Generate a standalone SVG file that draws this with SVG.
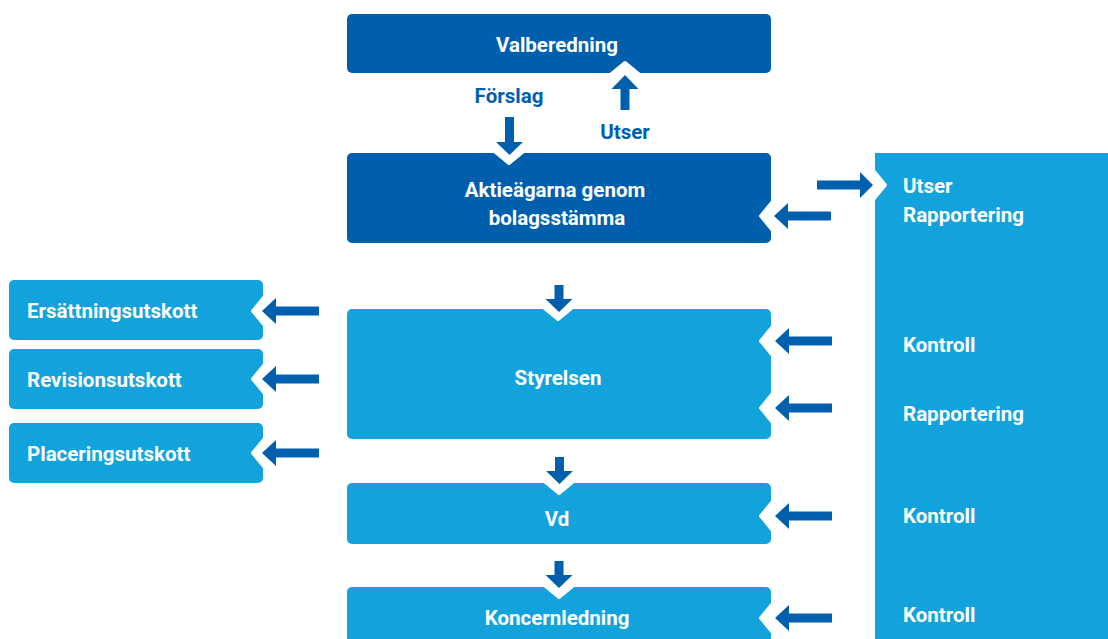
<svg xmlns="http://www.w3.org/2000/svg" xmlns:xlink="http://www.w3.org/1999/xlink" width="1108" height="639" viewBox="0 0 1108 639">
<style>
.dark{fill:#005fad}
.light{fill:#12a3dd}
.notch{fill:#fff;stroke:#fff;stroke-width:3;stroke-linejoin:round}
.arrow{fill:#0060ae}
text{font-family:Roboto,"Liberation Sans",sans-serif;font-weight:700;font-size:20.5px}
.w{fill:#fff}
.b{fill:#0060ae}
.c{text-anchor:middle}
</style>
<defs>
<path id="nU" d="M-14,1 L0,-10.5 L14,1 Z"/>
<path id="nD" d="M-14,-1 L0,10.5 L14,-1 Z"/>
<path id="nL" d="M1,-14 L-10.5,0 L1,14 Z"/>
<path id="nR" d="M-1,-14 L10.5,0 L-1,14 Z"/>
<path id="aL" d="M0,0 L14,-13 L14,-4.5 L57,-4.5 L57,4.5 L14,4.5 L14,13 Z"/>
<path id="aR" d="M0,0 L-13,-13 L-13,-4.5 L-56,-4.5 L-56,4.5 L-13,4.5 L-13,13 Z"/>
<path id="aDs" d="M0,0 L-13.5,-13 L-4.5,-13 L-4.5,-27 L4.5,-27 L4.5,-13 L13.5,-13 Z"/>
<path id="aDl" d="M0,0 L-13.5,-13 L-4.5,-13 L-4.5,-38 L4.5,-38 L4.5,-13 L13.5,-13 Z"/>
<path id="aUl" d="M0,0 L-13.5,14 L-4.5,14 L-4.5,35 L4.5,35 L4.5,14 L13.5,14 Z"/>
</defs>
<rect width="1108" height="639" fill="#fff"/>

<g id="valberedning">
<rect class="dark" x="347" y="14" width="424" height="59" rx="5"/>
<use href="#nU" x="625" y="73" class="notch"/>
<text class="w c" x="557" y="52">Valberedning</text>
</g>

<g id="aktieagarna">
<rect class="dark" x="347" y="153" width="424" height="90" rx="5"/>
<use href="#nD" x="509" y="153" class="notch"/>
<use href="#nL" x="771" y="216" class="notch"/>
<text class="w c" x="555" y="197">Aktieägarna genom</text>
<text class="w c" x="557" y="225">bolagsstämma</text>
</g>

<g id="kontrollorgan">
<rect class="light" x="875" y="153" width="245" height="500"/>
<use href="#nR" x="875" y="185" class="notch"/>
<text class="w" x="903" y="193">Utser</text>
<text class="w" x="903" y="222">Rapportering</text>
<text class="w" x="903" y="352">Kontroll</text>
<text class="w" x="903" y="421">Rapportering</text>
<text class="w" x="903" y="523">Kontroll</text>
<text class="w" x="903" y="622">Kontroll</text>
</g>

<g id="ersattningsutskott">
<rect class="light" x="9" y="280" width="254" height="60" rx="5"/>
<use href="#nL" x="263" y="311" class="notch"/>
<text class="w" x="27" y="318">Ersättningsutskott</text>
</g>

<g id="revisionsutskott">
<rect class="light" x="9" y="349" width="254" height="60" rx="5"/>
<use href="#nL" x="263" y="379" class="notch"/>
<text class="w" x="27" y="387">Revisionsutskott</text>
</g>

<g id="placeringsutskott">
<rect class="light" x="9" y="423" width="254" height="60" rx="5"/>
<use href="#nL" x="263" y="453" class="notch"/>
<text class="w" x="27" y="461">Placeringsutskott</text>
</g>

<g id="styrelsen">
<rect class="light" x="347" y="309" width="424" height="130" rx="5"/>
<use href="#nD" x="558" y="309" class="notch"/>
<use href="#nL" x="771" y="341" class="notch"/>
<use href="#nL" x="771" y="408" class="notch"/>
<text class="w c" x="558" y="385">Styrelsen</text>
</g>

<g id="vd">
<rect class="light" x="347" y="483" width="424" height="61" rx="5"/>
<use href="#nD" x="559" y="483" class="notch"/>
<use href="#nL" x="771" y="516" class="notch"/>
<text class="w c" x="557" y="526">Vd</text>
</g>

<g id="koncernledning">
<rect class="light" x="347" y="587" width="424" height="70" rx="5"/>
<use href="#nD" x="559" y="587" class="notch"/>
<use href="#nL" x="771" y="618" class="notch"/>
<text class="w c" x="557" y="625">Koncernledning</text>
</g>

<g id="connectors">
<use href="#aDl" x="509.5" y="155" class="arrow"/>
<text class="b c" x="509" y="103">Förslag</text>
<use href="#aUl" x="625" y="75" class="arrow"/>
<text class="b c" x="625" y="139">Utser</text>
<use href="#aR" x="873" y="185" class="arrow"/>
<use href="#aL" x="774" y="216" class="arrow"/>
<use href="#aL" x="262" y="311" class="arrow"/>
<use href="#aL" x="262" y="379" class="arrow"/>
<use href="#aL" x="262" y="453" class="arrow"/>
<use href="#aDs" x="559" y="312" class="arrow"/>
<use href="#aL" x="775" y="341" class="arrow"/>
<use href="#aL" x="775" y="408" class="arrow"/>
<use href="#aDs" x="559.5" y="484" class="arrow"/>
<use href="#aL" x="775" y="516" class="arrow"/>
<use href="#aDs" x="559" y="588" class="arrow"/>
<use href="#aL" x="775" y="618" class="arrow"/>
</g>
</svg>
